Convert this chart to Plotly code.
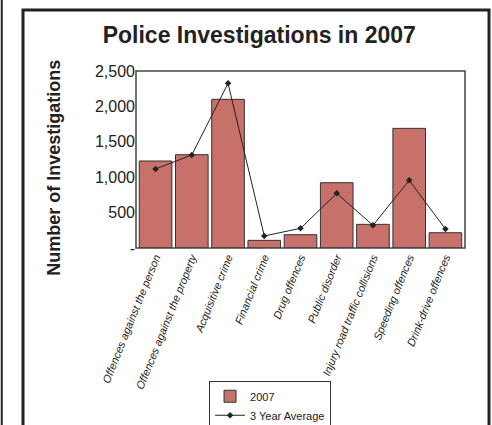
import plotly.graph_objects as go

categories = [
    "Offences against the person",
    "Offences against the property",
    "Acquisitive crime",
    "Financial crime",
    "Drug offences",
    "Public disorder",
    "Injury road traffic collisions",
    "Speeding offences",
    "Drink-drive offences",
]
values_2007 = [1229, 1318, 2100, 108, 188, 922, 334, 1690, 216]
three_year_avg = [1116, 1314, 2326, 170, 278, 772, 320, 956, 268]

y_ticks = [0, 500, 1000, 1500, 2000, 2500]
y_labels = ["-", "500", "1,000", "1,500", "2,000", "2,500"]

fig = go.Figure()
fig.add_trace(go.Bar(
    x=categories, y=values_2007, name="2007",
    marker=dict(color="#C8706A", line=dict(color="#333333", width=1)),
))
fig.add_trace(go.Scatter(
    x=categories, y=three_year_avg, name="3 Year Average",
    mode="lines+markers",
    line=dict(color="#222222", width=1),
    marker=dict(symbol="diamond", size=5, color="#222222"),
))

fig.update_layout(
    width=492, height=425,
    margin=dict(l=136, r=27, t=71, b=177, autoexpand=False),
    paper_bgcolor="white", plot_bgcolor="white",
    font=dict(family="Liberation Sans, Arial", color="#222222"),
    bargap=0.1,
    title=dict(text="<b>Police Investigations in 2007</b>", x=0.527, xanchor="center",
               y=0.918, yanchor="middle", font=dict(size=23, color="#222222")),
    legend=dict(x=0.222, y=-0.75, xanchor="left", yanchor="top",
                bordercolor="#333333", borderwidth=1, bgcolor="white",
                font=dict(size=11), tracegroupgap=0, itemwidth=30),
    showlegend=True,
)
fig.update_xaxes(
    tickangle=-68, automargin=False,
    tickvals=categories, ticktext=["<i>%s</i>" % c for c in categories],
    tickfont=dict(size=11, family="Liberation Sans Narrow, Liberation Sans, Arial"),
    showline=False, ticks="",
)
fig.update_yaxes(
    range=[0, 2500], tickvals=y_ticks, ticktext=y_labels, automargin=False,
    tickfont=dict(size=16), showgrid=False, showline=False, ticks="",
)
fig.add_annotation(
    text="<b>Number of Investigations</b>", textangle=-90,
    xref="paper", yref="paper", x=-0.25, y=0.452, xanchor="center", yanchor="middle",
    showarrow=False, font=dict(size=18, color="#222222"),
)
# plot frame
fig.add_shape(type="rect", xref="paper", yref="paper", x0=0, y0=0, x1=1, y1=1,
              line=dict(color="#444444", width=1.5))
# chart border
fig.add_shape(type="rect", xref="paper", yref="paper", x0=-0.3435, y0=-1.1, x1=1.073, y1=1.3446,
              line=dict(color="#222222", width=3))
fig.add_shape(type="line", xref="paper", yref="paper", x0=-0.408, y0=-1.1, x1=-0.408, y1=1.5,
              line=dict(color="#222222", width=2))

fig.write_html("out.html", config={"displayModeBar": False},
               post_script="document.body.style.margin='0';")
